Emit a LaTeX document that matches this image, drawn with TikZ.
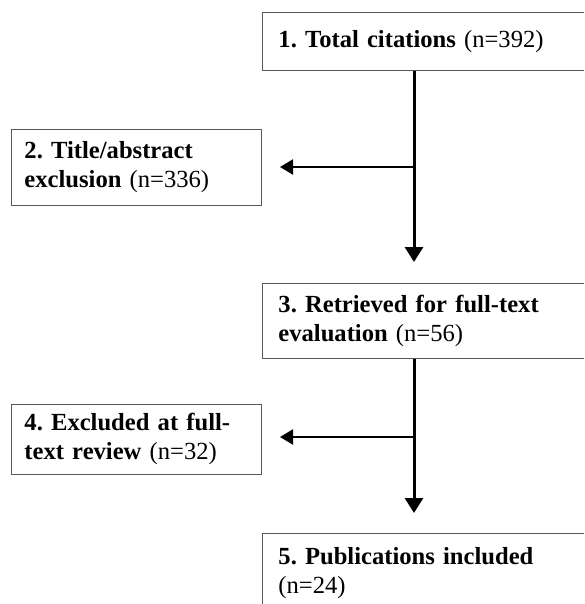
\documentclass[tikz,border=0pt]{standalone}
\usepackage{fontspec}
\setmainfont{Liberation Serif}
\usetikzlibrary{arrows.meta}
\frenchspacing
\begin{document}
\begin{tikzpicture}[x=1pt,y=-1pt,
  box/.style={draw=black!65, line width=0.9pt, fill=white, align=left, inner ysep=0pt,
    font=\fontsize{24.6}{29}\selectfont, anchor=north west},
  rbox/.style={box, inner xsep=16pt, text width=310pt, minimum width=342pt},
  lbox/.style={box, inner xsep=13pt, text width=224pt, minimum width=250pt},
  arrv/.style={line width=3pt, -{Triangle[width=18pt,length=15pt]}},
  arrh/.style={line width=2.2pt, -{Triangle[width=15pt,length=13pt]}}]
\useasboundingbox (0,0) rectangle (584,604);
\clip (0,0) rectangle (584,604);
\node[rbox, minimum height=58pt] (b1) at (262,12) {\textbf{1. Total citations} (n=392)};
\node[lbox, minimum height=76pt] (b2) at (11,129) {\textbf{2. Title/abstract}\\\textbf{exclusion} (n=336)};
\node[rbox, minimum height=75pt] (b3) at (262,283) {\textbf{3. Retrieved for full-text}\\\textbf{evaluation} (n=56)};
\node[lbox, minimum height=70pt] (b4) at (11,404) {\textbf{4. Excluded at full-}\\\textbf{text review} (n=32)};
\node[rbox, minimum height=80pt] (b5) at (262,533) {\textbf{5. Publications included}\\(n=24)};
\coordinate (t1) at (414,262);
\coordinate (j1) at (414,167);
\coordinate (h1) at (280,167);
\coordinate (t2) at (414,513);
\coordinate (j2) at (414,437);
\coordinate (h2) at (280,437);
\draw[arrv] (b1.south -| t1) -- (t1);
\draw[arrh] (j1) -- (h1);
\draw[arrv] (b3.south -| t2) -- (t2);
\draw[arrh] (j2) -- (h2);
\end{tikzpicture}
\end{document}
